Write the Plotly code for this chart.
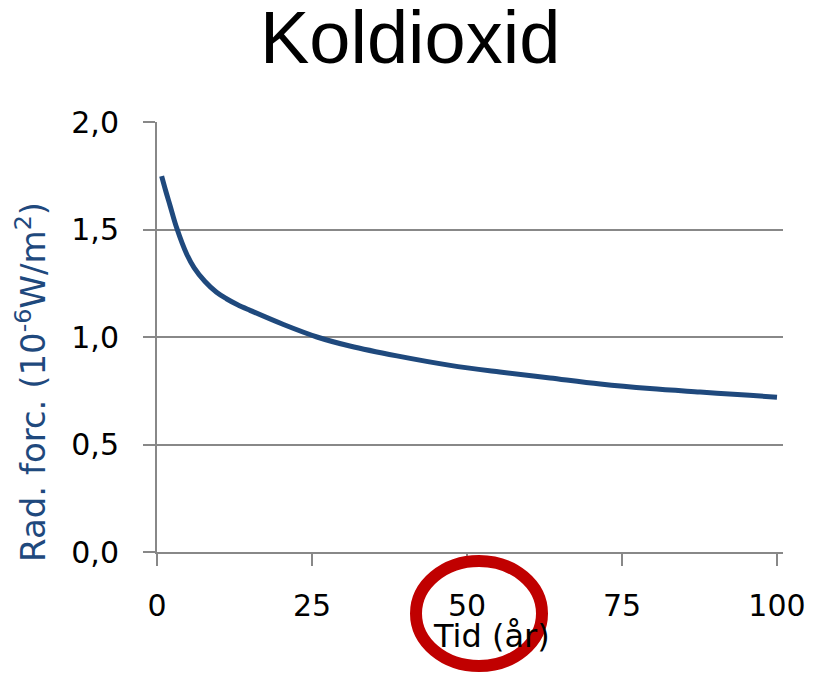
import plotly.graph_objects as go

# Data
years = [0.75, 1.4, 2.1, 3.17, 4.8, 6.0, 7.74, 9.6, 11.2, 13.0, 15.0, 20.4, 25.8, 31.1, 38.7, 47.3, 55.3, 63.4, 71.5, 79.5, 87.6, 95.6, 100]
forcing = [1.748, 1.680, 1.612, 1.508, 1.385, 1.322, 1.258, 1.208, 1.178, 1.150, 1.124, 1.058, 1.000, 0.958, 0.912, 0.868, 0.837, 0.809, 0.781, 0.760, 0.744, 0.729, 0.720]
x_ticks = [0, 25, 50, 75, 100]
y_ticks = [0.0, 0.5, 1.0, 1.5, 2.0]

title_text = "Koldioxid"
x_title = "Tid (år)"
y_title = "Rad. forc. (10<sup>-6</sup>W/m<sup>2</sup>)"

BLUE = "#1F497D"
GRID = "#888888"
FONT = "DejaVu Sans"

fig = go.Figure()
fig.add_trace(go.Scatter(
    x=years, y=forcing, mode="lines",
    line=dict(color=BLUE, width=5, shape="spline", smoothing=1.0),
    showlegend=False, hoverinfo="skip",
))

# page body has an 8px offset; plot area in window: x 157..783, y 122..552
OFF = 8
W, H = 815 - OFF, 674 - OFF
L, T = 157 - OFF, 122 - OFF
R = W - (783 - OFF)
B = H - (552 - OFF)
pw, ph = 783 - 157, 552 - 122

fig.update_layout(
    width=W, height=H,
    margin=dict(l=L, r=R, t=T, b=B, autoexpand=False),
    paper_bgcolor="white", plot_bgcolor="white",
    separators=", ",
    font=dict(family=FONT, size=30, color="black"),
)

fig.update_xaxes(
    range=[0, 100.97], tickvals=x_ticks, ticktext=[str(v) for v in x_ticks],
    showgrid=False, zeroline=False,
    showline=True, linecolor=GRID, linewidth=2,
    ticks="outside", ticklen=12, tickwidth=2, tickcolor=GRID,
    ticklabelstandoff=14,
    tickfont=dict(family=FONT, size=30, color="black"),
)
fig.update_yaxes(
    range=[0, 2.0], tickvals=y_ticks, tickformat=".1f",
    showgrid=True, gridcolor=GRID, gridwidth=2, zeroline=False,
    showline=True, linecolor=GRID, linewidth=2,
    ticks="outside", ticklen=12, tickwidth=2, tickcolor=GRID,
    ticklabelstandoff=18,
    tickfont=dict(family=FONT, size=30, color="black"),
)

def px_x(p):
    return (p - 157) / pw

def px_y(p):
    return (552 - p) / ph

# Title
fig.add_annotation(
    text=title_text, xref="paper", yref="paper",
    x=px_x(410), y=px_y(38), xanchor="center", yanchor="middle",
    showarrow=False, font=dict(family="Liberation Sans, Arial", size=74, color="black"),
)
# Y title
fig.add_annotation(
    text=y_title, xref="paper", yref="paper", textangle=-90,
    x=px_x(31), y=px_y(382), xanchor="center", yanchor="middle",
    showarrow=False, font=dict(family=FONT, size=34, color=BLUE),
)
# X title
fig.add_annotation(
    text=x_title, xref="paper", yref="paper",
    x=px_x(491), y=px_y(636), xanchor="center", yanchor="middle",
    showarrow=False, font=dict(family=FONT, size=32, color="black"),
)
# Red highlight circle
fig.add_shape(
    type="circle", xref="paper", yref="paper",
    x0=px_x(416), x1=px_x(542), y0=px_y(666), y1=px_y(561),
    line=dict(color="#C00000", width=12), layer="above",
)

fig.write_html("out.html")
